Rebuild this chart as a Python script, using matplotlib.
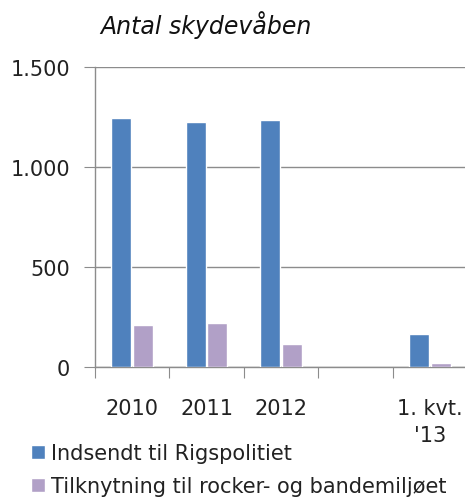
import numpy as np
import matplotlib.pyplot as plt
from matplotlib.patches import Patch

# Data
categories = ['2010', '2011', '2012', '', "1. kvt.\n'13"]
indsendt = [1243, 1223, 1237, np.nan, 165]
tilknytning = [210, 218, 115, np.nan, 22]

blue = '#4F81BD'
purple = '#B1A0C7'
grid_col = '#8C8C8C'

plt.rcParams['font.family'] = 'DejaVu Sans'

fig = plt.figure(figsize=(4.65, 5.02), dpi=100)
ax = fig.add_axes([0.2043, 0.267, 0.80, 0.5975])

x = np.arange(len(categories))
w = 0.27
ax.bar(x - w / 2 - 0.01, indsendt, w, color=blue, edgecolor='white', linewidth=1.0, zorder=3)
ax.bar(x + w / 2 + 0.01, tilknytning, w, color=purple, edgecolor='white', linewidth=1.0, zorder=3)

ax.set_xlim(-0.5, len(categories) - 0.5)
ax.set_ylim(0, 1500)
ax.set_yticks([0, 500, 1000, 1500])
ax.set_yticklabels(['0', '500', '1.000', '1.500'], fontsize=15, color='#222222')
ax.yaxis.grid(True, color=grid_col, linewidth=1.0, zorder=0)

# category boundary ticks on x axis
ax.set_xticks(np.arange(len(categories) + 1) - 0.5)
ax.set_xticklabels([])
ax.set_xticks(x, minor=True)
ax.set_xticklabels(categories, minor=True, fontsize=15, color='#222222', linespacing=1.45, va='top')
ax.tick_params(axis='x', which='major', length=8, color=grid_col, direction='out')
ax.tick_params(axis='x', which='minor', length=0, pad=22)
ax.tick_params(axis='y', length=8, color=grid_col, pad=10)

for s in ['top', 'right']:
    ax.spines[s].set_visible(False)
for s in ['left', 'bottom']:
    ax.spines[s].set_color(grid_col)
    ax.spines[s].set_linewidth(1.0)

fig.text(0.215, 0.95, 'Antal skydevåben', fontsize=17, style='italic', color='#111111', va='center')

handles = [Patch(facecolor=blue, edgecolor='white'),
           Patch(facecolor=purple, edgecolor='white')]
fig.legend(handles, ['Indsendt til Rigspolitiet', 'Tilknytning til rocker- og bandemiljøet'],
           loc='lower left', bbox_to_anchor=(0.035, -0.02), frameon=False, fontsize=15,
           handlelength=0.7, handleheight=0.7, handletextpad=0.25, labelspacing=0.64,
           borderpad=0.2, labelcolor='#222222')

fig.savefig('out.png', dpi=100)
